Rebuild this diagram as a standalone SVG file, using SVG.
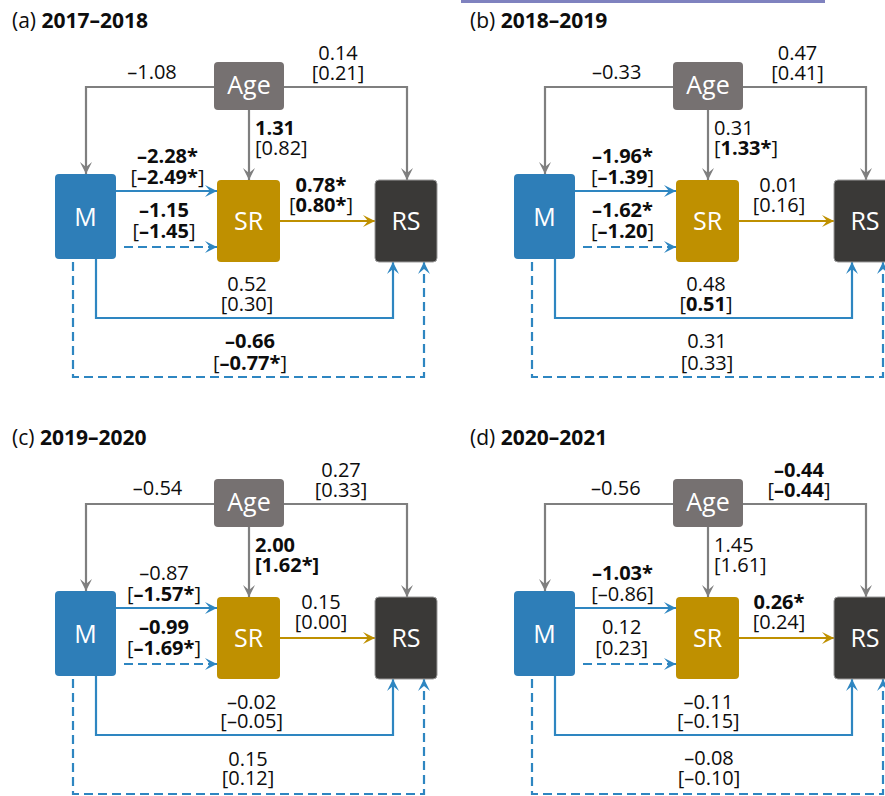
<svg xmlns="http://www.w3.org/2000/svg" width="885" height="796" viewBox="0 0 885 796">
<style>
.t{font-family:"Open Sans","Liberation Sans",sans-serif;font-size:20px;fill:#0d0d0d}
.ti{font-family:"Open Sans","Liberation Sans",sans-serif;font-size:21px;fill:#0d0d0d}
.m{text-anchor:middle}
.b{font-weight:bold}
.n{font-family:"Open Sans","Liberation Sans",sans-serif;font-size:25px;fill:#fff;text-anchor:middle}
.age{fill:#767171}
.mm{fill:#2E7EB8}
.sr{fill:#BF9000}
.rs{fill:#3A3937;stroke:#9a9a9a;stroke-width:1}
.cg{fill:none;stroke:#7F7F7F;stroke-width:2.2;marker-end:url(#ag)}
.cb{fill:none;stroke:#2E86C1;stroke-width:2.2;marker-end:url(#ab)}
.cd{fill:none;stroke:#2E86C1;stroke-width:2.2;stroke-dasharray:9 5;marker-end:url(#ab)}
.cy{fill:none;stroke:#BF9000;stroke-width:2.2;marker-end:url(#ay)}
</style>
<defs>
<marker id="ag" viewBox="-13 -7 14 14" refX="0" refY="0" markerWidth="14" markerHeight="14" markerUnits="userSpaceOnUse" orient="auto"><path d="M-12,-6 L0,0 L-12,6 L-7,0 Z" fill="#7F7F7F"/></marker>
<marker id="ab" viewBox="-13 -7 14 14" refX="0" refY="0" markerWidth="14" markerHeight="14" markerUnits="userSpaceOnUse" orient="auto"><path d="M-12,-6 L0,0 L-12,6 L-7,0 Z" fill="#2E86C1"/></marker>
<marker id="ay" viewBox="-13 -7 14 14" refX="0" refY="0" markerWidth="14" markerHeight="14" markerUnits="userSpaceOnUse" orient="auto"><path d="M-12,-6 L0,0 L-12,6 L-7,0 Z" fill="#BF9000"/></marker>
</defs>
<rect x="461" y="0" width="364" height="3" fill="#7F82BF"/>

<!-- Panel (a) -->
<g id="panel-a">
<g id="a-connectors">
<path class="cg" d="M214,87 H86 V174"/>
<path class="cg" d="M284,87 H407 V180"/>
<path class="cg" d="M249,110 V180"/>
<path class="cb" d="M116,191 H217"/>
<path class="cd" d="M124,247 H217"/>
<path class="cy" d="M280,221 H375"/>
<path class="cb" d="M96,259 V318 H393 V262"/>
<path class="cd" d="M73,262 V377 H424 V262"/>
</g>
<g id="a-age"><rect class="age" x="214" y="62" width="70" height="48" rx="4"/><text class="n" x="249" y="94">Age</text></g>
<g id="a-m"><rect class="mm" x="55" y="174" width="61" height="85" rx="4"/><text class="n" x="85.5" y="226">M</text></g>
<g id="a-sr"><rect class="sr" x="217" y="180" width="63" height="82" rx="4"/><text class="n" x="248.5" y="230">SR</text></g>
<g id="a-rs"><rect class="rs" x="375" y="180" width="62" height="82" rx="4"/><text class="n" x="406" y="230">RS</text></g>
<g id="a-labels">
<text class="ti" x="12" y="28">(a) <tspan class="b">2017–2018</tspan></text>
<text class="t m" x="152" y="79">–1.08</text>
<text class="t m" x="338" y="60">0.14</text>
<text class="t m" x="338" y="80">[0.21]</text>
<text class="t b" x="255" y="135">1.31</text>
<text class="t" x="255" y="155">[0.82]</text>
<text class="t m b" x="167.5" y="163">–2.28*</text>
<text class="t m" x="167.5" y="184">[<tspan class="b">–2.49*</tspan>]</text>
<text class="t m b" x="321" y="192">0.78*</text>
<text class="t m" x="321" y="212">[<tspan class="b">0.80*</tspan>]</text>
<text class="t m b" x="164" y="217">–1.15</text>
<text class="t m" x="164" y="238">[<tspan class="b">–1.45</tspan>]</text>
<text class="t m" x="247" y="291">0.52</text>
<text class="t m" x="247" y="311">[0.30]</text>
<text class="t m b" x="250" y="348">–0.66</text>
<text class="t m" x="250" y="370">[<tspan class="b">–0.77*</tspan>]</text>
</g>
</g>

<!-- Panel (b) -->
<g id="panel-b" transform="translate(459,0)">
<g id="b-connectors">
<path class="cg" d="M214,87 H86 V174"/>
<path class="cg" d="M284,87 H407 V180"/>
<path class="cg" d="M249,110 V180"/>
<path class="cb" d="M116,191 H217"/>
<path class="cd" d="M124,247 H217"/>
<path class="cy" d="M280,221 H375"/>
<path class="cb" d="M96,259 V318 H393 V262"/>
<path class="cd" d="M73,262 V377 H424 V262"/>
</g>
<g id="b-age"><rect class="age" x="214" y="62" width="70" height="48" rx="4"/><text class="n" x="249" y="94">Age</text></g>
<g id="b-m"><rect class="mm" x="55" y="174" width="61" height="85" rx="4"/><text class="n" x="85.5" y="226">M</text></g>
<g id="b-sr"><rect class="sr" x="217" y="180" width="63" height="82" rx="4"/><text class="n" x="248.5" y="230">SR</text></g>
<g id="b-rs"><rect class="rs" x="375" y="180" width="62" height="82" rx="4"/><text class="n" x="406" y="230">RS</text></g>
<g id="b-labels">
<text class="ti" x="11" y="28">(b) <tspan class="b">2018–2019</tspan></text>
<text class="t m" x="157.7" y="79">–0.33</text>
<text class="t m" x="338.5" y="60">0.47</text>
<text class="t m" x="338.5" y="80">[0.41]</text>
<text class="t" x="255" y="135">0.31</text>
<text class="t" x="255" y="155">[<tspan class="b">1.33*</tspan>]</text>
<text class="t m b" x="163.5" y="163">–1.96*</text>
<text class="t m" x="163.5" y="184">[<tspan class="b">–1.39</tspan>]</text>
<text class="t m" x="320" y="192">0.01</text>
<text class="t m" x="320" y="212">[0.16]</text>
<text class="t m b" x="163.5" y="217">–1.62*</text>
<text class="t m" x="163.5" y="238">[<tspan class="b">–1.20</tspan>]</text>
<text class="t m" x="247" y="291">0.48</text>
<text class="t m" x="247" y="311">[<tspan class="b">0.51</tspan>]</text>
<text class="t m" x="248" y="348">0.31</text>
<text class="t m" x="248" y="370">[0.33]</text>
</g>
</g>

<!-- Panel (c) -->
<g id="panel-c" transform="translate(0,417)">
<g id="c-connectors">
<path class="cg" d="M214,87 H86 V174"/>
<path class="cg" d="M284,87 H407 V180"/>
<path class="cg" d="M249,110 V180"/>
<path class="cb" d="M116,191 H217"/>
<path class="cd" d="M124,247 H217"/>
<path class="cy" d="M280,221 H375"/>
<path class="cb" d="M96,259 V318 H393 V262"/>
<path class="cd" d="M73,262 V377 H424 V262"/>
</g>
<g id="c-age"><rect class="age" x="214" y="62" width="70" height="48" rx="4"/><text class="n" x="249" y="94">Age</text></g>
<g id="c-m"><rect class="mm" x="55" y="174" width="61" height="85" rx="4"/><text class="n" x="85.5" y="226">M</text></g>
<g id="c-sr"><rect class="sr" x="217" y="180" width="63" height="82" rx="4"/><text class="n" x="248.5" y="230">SR</text></g>
<g id="c-rs"><rect class="rs" x="375" y="180" width="62" height="82" rx="4"/><text class="n" x="406" y="230">RS</text></g>
<g id="c-labels">
<text class="ti" x="12" y="28">(c) <tspan class="b">2019–2020</tspan></text>
<text class="t m" x="157.5" y="78">–0.54</text>
<text class="t m" x="341" y="60">0.27</text>
<text class="t m" x="341" y="80">[0.33]</text>
<text class="t b" x="255" y="135">2.00</text>
<text class="t b" x="255" y="155">[1.62*]</text>
<text class="t m" x="164" y="163">–0.87</text>
<text class="t m" x="164" y="184">[<tspan class="b">–1.57*</tspan>]</text>
<text class="t m" x="321" y="192">0.15</text>
<text class="t m" x="321" y="212">[0.00]</text>
<text class="t m b" x="164" y="217">–0.99</text>
<text class="t m" x="164" y="238">[<tspan class="b">–1.69*</tspan>]</text>
<text class="t m" x="251.7" y="292">–0.02</text>
<text class="t m" x="251.7" y="311">[–0.05]</text>
<text class="t m" x="248" y="349">0.15</text>
<text class="t m" x="248" y="368">[0.12]</text>
</g>
</g>

<!-- Panel (d) -->
<g id="panel-d" transform="translate(459,417)">
<g id="d-connectors">
<path class="cg" d="M214,87 H86 V174"/>
<path class="cg" d="M284,87 H407 V180"/>
<path class="cg" d="M249,110 V180"/>
<path class="cb" d="M116,191 H217"/>
<path class="cd" d="M124,247 H217"/>
<path class="cy" d="M280,221 H375"/>
<path class="cb" d="M96,259 V318 H393 V262"/>
<path class="cd" d="M73,262 V377 H424 V262"/>
</g>
<g id="d-age"><rect class="age" x="214" y="62" width="70" height="48" rx="4"/><text class="n" x="249" y="94">Age</text></g>
<g id="d-m"><rect class="mm" x="55" y="174" width="61" height="85" rx="4"/><text class="n" x="85.5" y="226">M</text></g>
<g id="d-sr"><rect class="sr" x="217" y="180" width="63" height="82" rx="4"/><text class="n" x="248.5" y="230">SR</text></g>
<g id="d-rs"><rect class="rs" x="375" y="180" width="62" height="82" rx="4"/><text class="n" x="406" y="230">RS</text></g>
<g id="d-labels">
<text class="ti" x="11" y="28">(d) <tspan class="b">2020–2021</tspan></text>
<text class="t m" x="156.8" y="78">–0.56</text>
<text class="t m b" x="340" y="60">–0.44</text>
<text class="t m" x="340" y="80">[<tspan class="b">–0.44</tspan>]</text>
<text class="t" x="255" y="135">1.45</text>
<text class="t" x="255" y="155">[1.61]</text>
<text class="t m b" x="163.5" y="163">–1.03*</text>
<text class="t m" x="163.5" y="184">[–0.86]</text>
<text class="t m b" x="320" y="192">0.26*</text>
<text class="t m" x="320" y="212">[0.24]</text>
<text class="t m" x="162.7" y="217">0.12</text>
<text class="t m" x="162.7" y="238">[0.23]</text>
<text class="t m" x="249.3" y="292">–0.11</text>
<text class="t m" x="249.3" y="311">[–0.15]</text>
<text class="t m" x="250" y="348">–0.08</text>
<text class="t m" x="250" y="368">[–0.10]</text>
</g>
</g>
</svg>
